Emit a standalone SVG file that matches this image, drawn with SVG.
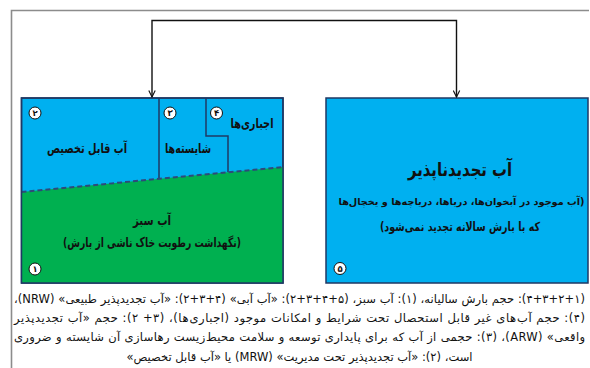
<svg xmlns="http://www.w3.org/2000/svg" width="590" height="368" viewBox="0 0 590 368">
<style>
.fa{font-family:"DejaVu Sans","Noto Sans",sans-serif;direction:rtl;fill:#111;}
.b{font-weight:bold;}
.box{stroke:#1f3864;stroke-width:1.5;}
.num{fill:#fff;stroke:#111;stroke-width:1;}
.numt{font-family:"DejaVu Sans",sans-serif;font-size:8.5px;font-weight:bold;fill:#111;text-anchor:middle;}
.cap{font-size:11.5px;}
</style>
<defs>
<marker id="ah" viewBox="0 0 10 10" refX="9" refY="5" markerWidth="8" markerHeight="8" orient="auto-start-reverse" markerUnits="userSpaceOnUse">
<path d="M1,1 L9,5 L1,9" fill="none" stroke="#111" stroke-width="1.4"/>
</marker>
</defs>
<rect width="590" height="368" fill="#fff"/>
<path d="M11.5,368 V10.5 H589" fill="none" stroke="#8c8c8c" stroke-width="1.6"/>
<g id="node-left">
<rect x="21.5" y="98" width="261.5" height="185" fill="#00b0f0" class="box"/>
<polygon points="21.5,192 283,167 283,283 21.5,283" fill="#00b050"/>
<path d="M159,98 V178 M206,98 V136 H228 V172" fill="none" stroke="#1f3864" stroke-width="1.5"/>
<line x1="21.5" y1="192" x2="283" y2="167" stroke="#2e4a7a" stroke-width="2" stroke-dasharray="5,3"/>
<rect x="21.5" y="98" width="261.5" height="185" fill="none" class="box"/>
<text x="87" y="153" class="fa b" font-size="13.5" text-anchor="middle" textLength="80" lengthAdjust="spacingAndGlyphs">آب قابل تخصیص</text>
<text x="188" y="153" class="fa b" font-size="13.5" text-anchor="middle" textLength="46" lengthAdjust="spacingAndGlyphs">شایسته‌ها</text>
<text x="252" y="128" class="fa b" font-size="13.5" text-anchor="middle" textLength="43" lengthAdjust="spacingAndGlyphs">اجباری‌ها</text>
<text x="152" y="225" class="fa b" font-size="13.5" text-anchor="middle" textLength="38" lengthAdjust="spacingAndGlyphs">آب سبز</text>
<text x="152" y="246.5" class="fa b" font-size="13" text-anchor="middle" textLength="178" lengthAdjust="spacingAndGlyphs">(نگهداشت رطوبت خاک ناشی از بارش)</text>
<circle cx="35" cy="113" r="6" class="num"/><text x="35" y="116" class="numt">۲</text>
<circle cx="170" cy="113" r="6" class="num"/><text x="170" y="116" class="numt">۳</text>
<circle cx="216.5" cy="113" r="6" class="num"/><text x="216.5" y="116" class="numt">۴</text>
<circle cx="35" cy="269" r="6" class="num"/><text x="35" y="272" class="numt">۱</text>
</g>
<g id="node-right">
<rect x="326" y="98" width="262" height="185" fill="#00b0f0" class="box"/>
<text x="460" y="175.5" class="fa b" font-size="19" text-anchor="middle" textLength="104" lengthAdjust="spacingAndGlyphs">آب تجدیدناپذیر</text>
<text x="461.5" y="204.5" class="fa b" font-size="9.8" text-anchor="middle" textLength="246" lengthAdjust="spacingAndGlyphs">(آب موجود در آبخوان‌ها، دریاها، دریاچه‌ها و یخچال‌ها</text>
<text x="460" y="231" class="fa b" font-size="12.5" text-anchor="middle" textLength="160" lengthAdjust="spacingAndGlyphs">که با بارش سالانه تجدید نمی‌شود)</text>
<circle cx="340" cy="268.5" r="6" class="num"/><text x="340" y="271.5" class="numt">۵</text>
</g>
<g id="connectors">
<path d="M152,97 V20.5 H456.5 V97" fill="none" stroke="#111" stroke-width="1.4" marker-start="url(#ah)" marker-end="url(#ah)"/>
</g>
<g id="caption">
<text x="299.5" y="303" class="fa cap" text-anchor="middle" textLength="571" lengthAdjust="spacing">(۴+۳+۲+۱): حجم بارش سالیانه، (۱): آب سبز، (۵+۴+۳+۲): «آب آبی» (۴+۳+۲): «آب تجدیدپذیر طبیعی» (NRW)،</text>
<text x="299.5" y="322" class="fa cap" text-anchor="middle" textLength="571" lengthAdjust="spacing">(۴): حجم آب‌های غیر قابل استحصال تحت شرایط و امکانات موجود (اجباری‌ها)، (۳+ ۲): حجم «آب تجدیدپذیر</text>
<text x="299.5" y="341" class="fa cap" text-anchor="middle" textLength="571" lengthAdjust="spacing">واقعی» (ARW)، (۳): حجمی از آب که برای پایداری توسعه و سلامت محیط‌زیست رهاسازی آن شایسته و ضروری</text>
<text x="299.5" y="361" class="fa cap" text-anchor="middle">است، (۲): «آب تجدیدپذیر تحت مدیریت» (MRW) یا «آب قابل تخصیص»</text>
</g>
</svg>
